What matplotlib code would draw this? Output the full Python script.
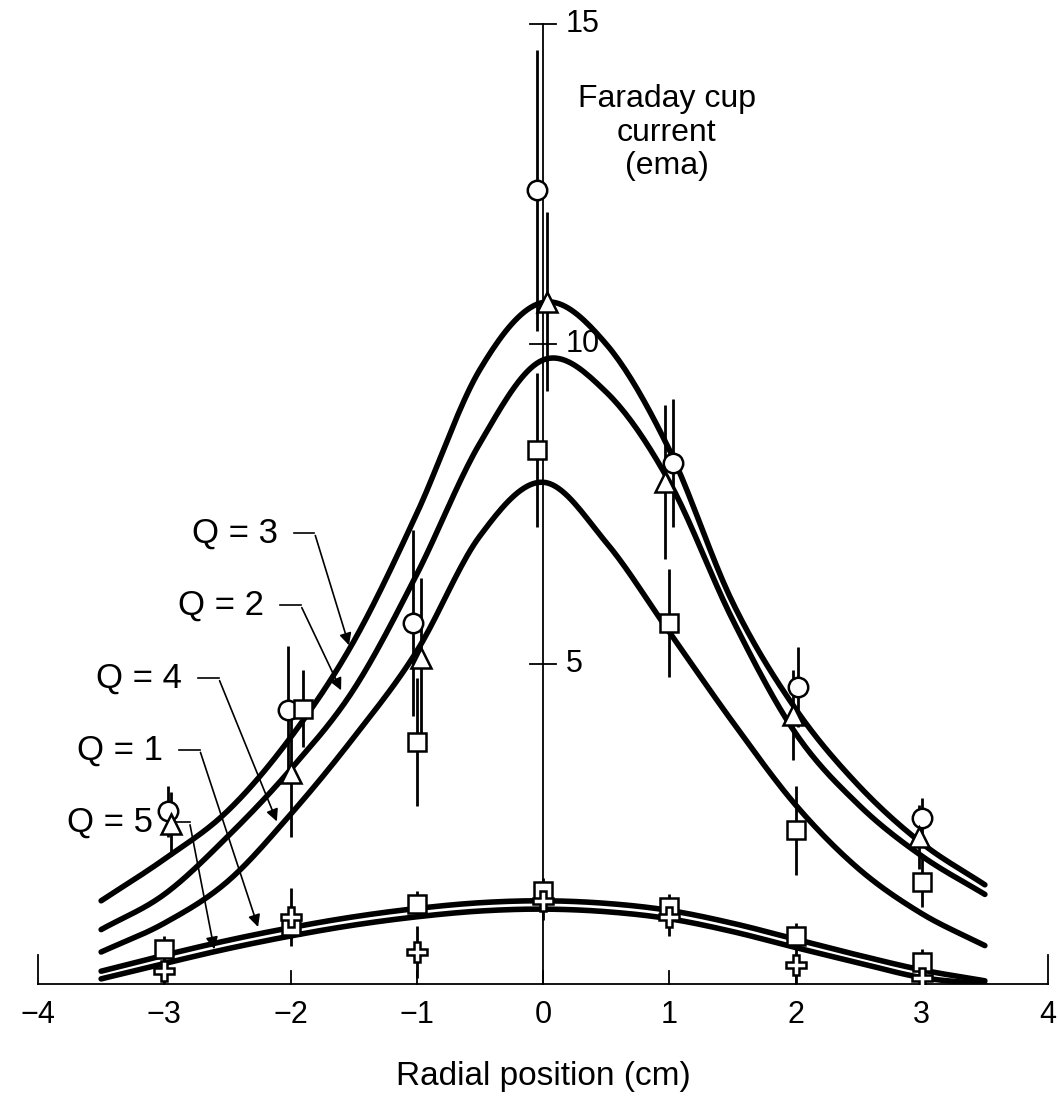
import numpy as np
import matplotlib
matplotlib.use("Agg")
import matplotlib.pyplot as plt

plt.rcParams['font.family'] = ['Liberation Sans', 'DejaVu Sans']

# ---------------- data ----------------
circle_x = [-2.97, -2.02, -1.03, -0.05, 1.03, 2.02, 3.0]
circle_y = [2.7, 4.28, 5.64, 12.4, 8.14, 4.64, 2.6]
circle_e = [0.4, 1.0, 1.45, 2.2, 1.0, 0.63, 0.3]

tri_x = [-2.95, -2.0, -0.97, 0.03, 0.97, 1.98, 2.98]
tri_y = [2.5, 3.3, 5.1, 10.66, 7.84, 4.2, 2.3]
tri_e = [0.5, 1.0, 1.25, 1.4, 1.2, 0.7, 0.5]

sq_x = [-1.9, -1.0, -0.05, 1.0, 2.0, 3.0]
sq_y = [4.3, 3.78, 8.34, 5.64, 2.4, 1.6]
sq_e = [0.6, 1.0, 1.2, 0.85, 0.7, 0.4]

sq_low_x = [-3.0, -2.0, -1.0, 0.0, 1.0, 2.0, 3.0]
sq_low_y = [0.55, 0.9, 1.25, 1.45, 1.2, 0.75, 0.35]
sq_low_e = [0.2, 0.2, 0.2, 0.2, 0.2, 0.2, 0.2]

plus_x = [-3.0, -2.0, -1.0, 0.0, 1.0, 2.0, 3.0]
plus_y = [0.2, 1.05, 0.5, 1.3, 1.05, 0.3, 0.1]
plus_e = [0.3, 0.45, 0.4, 0.3, 0.3, 0.3, 0.2]

curve_x = [-3.5, -3.0, -2.5, -2.0, -1.5, -1.0, -0.5, 0.0, 0.5, 1.0, 1.5, 2.0, 2.5, 3.0, 3.5]
q3_y = [1.3, 1.95, 2.7, 3.85, 5.35, 7.35, 9.6, 10.65, 10.0, 8.35, 5.97, 4.3, 3.1, 2.2, 1.55]
q2_y = [0.85, 1.4, 2.3, 3.35, 4.6, 6.4, 8.45, 9.75, 9.25, 7.85, 5.7, 3.92, 2.8, 2.0, 1.4]
q4_y = [0.5, 0.95, 1.6, 2.65, 3.85, 5.2, 7.0, 7.84, 6.9, 5.5, 4.1, 2.8, 1.8, 1.1, 0.6]
q1_y = [0.2, 0.45, 0.68, 0.88, 1.05, 1.18, 1.27, 1.3, 1.26, 1.15, 0.95, 0.7, 0.45, 0.22, 0.05]
q5_y = [0.08, 0.32, 0.55, 0.75, 0.92, 1.05, 1.14, 1.17, 1.13, 1.02, 0.82, 0.57, 0.33, 0.1, 0.0]

x_ticks = [-4, -3, -2, -1, 0, 1, 2, 3, 4]
y_ticks = [5, 10, 15]

q_labels = ["Q = 3", "Q = 2", "Q = 4", "Q = 1", "Q = 5"]
q_text_xy = [(-2.44, 7.05), (-2.55, 5.92), (-3.2, 4.78), (-3.35, 3.66), (-3.43, 2.53)]
q_tip_xy = [(-1.53, 5.25), (-1.59, 4.55), (-2.1, 2.5), (-2.25, 0.85), (-2.6, 0.5)]


def smooth(xs, ys, n=20):
    # Catmull-Rom rendering of the read curve points
    xs = np.asarray(xs, float); ys = np.asarray(ys, float)
    px = np.concatenate([[2*xs[0]-xs[1]], xs, [2*xs[-1]-xs[-2]]])
    py = np.concatenate([[2*ys[0]-ys[1]], ys, [2*ys[-1]-ys[-2]]])
    ox, oy = [], []
    t = np.linspace(0, 1, n, endpoint=False)
    for i in range(1, len(px)-2):
        for arr, out in ((px, ox), (py, oy)):
            p0, p1, p2, p3 = arr[i-1], arr[i], arr[i+1], arr[i+2]
            out.extend(0.5*((2*p1) + (-p0+p2)*t + (2*p0-5*p1+4*p2-p3)*t**2 + (-p0+3*p1-3*p2+p3)*t**3))
    ox.append(xs[-1]); oy.append(ys[-1])
    return np.array(ox), np.array(oy)


fig = plt.figure(figsize=(10.58, 11.04), dpi=100)
ax = fig.add_axes([38/1058, (1104-984)/1104, 1010/1058, 960/1104])
ax.set_xlim(-4, 4)
ax.set_ylim(0, 15)
ax.axis('off')

# axes drawn by hand
ax.plot([-4, 4], [0, 0], color='black', lw=1.3, clip_on=False)
for xt in x_ticks:
    h = 0.45 if abs(xt) == 4 else 0.2
    ax.plot([xt, xt], [0, h], color='black', lw=1.3, clip_on=False)
    ax.text(xt, -0.25, f"{xt}".replace('-', '\u2212'), ha='center', va='top', fontsize=22)
ax.plot([0, 0], [0, 15], color='black', lw=1.3, clip_on=False)
for yt in y_ticks:
    ax.plot([-0.1, 0.1], [yt, yt], color='black', lw=1.3, clip_on=False)
    ax.text(0.18, yt, f"{yt}", ha='left', va='center', fontsize=22)

ax.text(0.98, 13.3, "Faraday cup\ncurrent\n(ema)", ha='center', va='center',
        fontsize=23, linespacing=1.15)
ax.text(0, -1.45, "Radial position (cm)", ha='center', va='center', fontsize=24)

# curves
for cy in (q3_y, q2_y, q4_y, q1_y, q5_y):
    sx, sy = smooth(curve_x, cy)
    ax.plot(sx, sy, color='black', lw=4, solid_capstyle='round', zorder=3)

# points
def pts(xs, ys, es, marker, ms):
    ax.errorbar(xs, ys, yerr=es, fmt='none', ecolor='black', elinewidth=2, capsize=0, zorder=4)
    ax.plot(xs, ys, linestyle='none', marker=marker, ms=ms, mfc='white', mec='black', mew=1.8, zorder=5)

pts(circle_x, circle_y, circle_e, 'o', 14)
pts(tri_x, tri_y, tri_e, '^', 14)
pts(sq_x, sq_y, sq_e, 's', 13)
pts(sq_low_x, sq_low_y, sq_low_e, 's', 13)
pts(plus_x, plus_y, plus_e, 'P', 14)

# Q labels with leaders
for lab, (tx, ty), (ex, ey) in zip(q_labels, q_text_xy, q_tip_xy):
    ax.text(tx, ty, lab, ha='center', va='center', fontsize=25)
    sx = tx + 0.47
    kx = sx + 0.16
    ax.plot([sx, kx], [ty, ty], color='black', lw=1.2)
    ax.annotate('', xy=(ex, ey), xytext=(kx, ty),
                arrowprops=dict(arrowstyle='-|>', color='black', lw=1.2, mutation_scale=18))

fig.savefig('out.png', dpi=100)
